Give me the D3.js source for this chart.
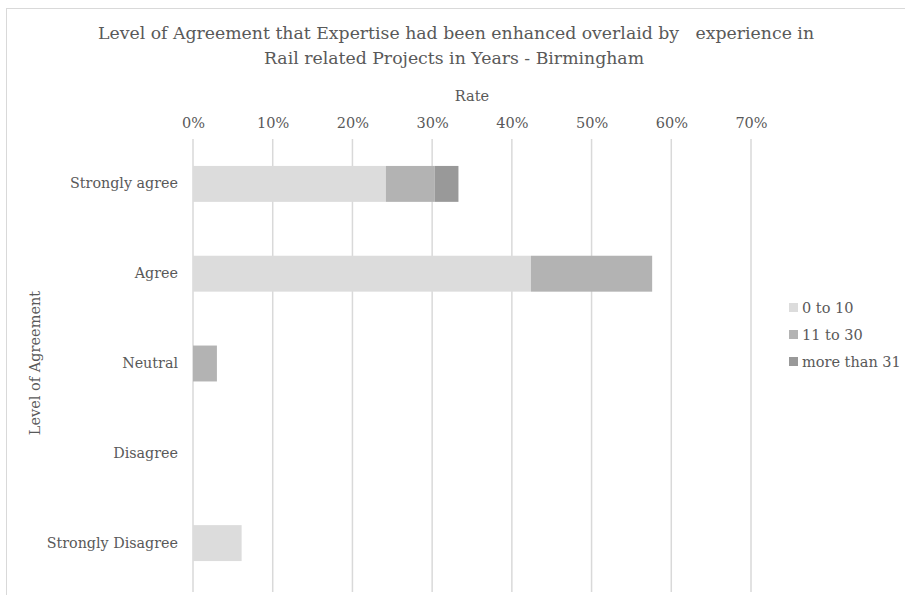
<!DOCTYPE html>
<html><head><meta charset="utf-8">
<script src="https://cdn.jsdelivr.net/npm/d3@7"></script>
<style>body{margin:0;background:#fff}svg{display:block}text{font-family:"DejaVu Serif",serif;fill:#595959}</style>
</head><body>
<script>
const categories = ["Strongly agree","Agree","Neutral","Disagree","Strongly Disagree"];
const seriesNames = ["0 to 10","11 to 30","more than 31"];
const s0to10 = [24.2, 42.4, 0, 0, 6.1];
const s11to30 = [6.1, 15.2, 3.0, 0, 0];
const sMore31 = [3.0, 0, 0, 0, 0];
const colors = ["#dcdcdc","#b3b3b3","#999999"];
const ticks = [0,10,20,30,40,50,60,70];

const W=905,H=595;
const FONT="DejaVu Serif";
const svg=d3.select("body").append("svg").attr("width",W).attr("height",H);
svg.append("rect").attr("x",6.5).attr("y",8.5).attr("width",W+10).attr("height",H+10).attr("fill","#fff").attr("stroke","#d9d9d9");

const x=d3.scaleLinear().domain([0,70]).range([193,751]);
const y=d3.scaleBand().domain(categories).range([139,588]).paddingInner(0.6).paddingOuter(0.3);

// gridlines
svg.append("g").selectAll("line").data(ticks).join("line")
 .attr("x1",d=>x(d)).attr("x2",d=>x(d)).attr("y1",139).attr("y2",592)
 .attr("stroke","#d9d9d9").attr("stroke-width",1.5);

// top axis
const ax=svg.append("g").attr("transform","translate(0,131)").call(d3.axisTop(x).tickValues(ticks).tickFormat(d=>d+"%").tickSize(0).tickPadding(0));
ax.select(".domain").remove();
ax.selectAll("text").attr("font-size",14.5).style("font-family",FONT).attr("fill","#595959").attr("dy","-0.2em");

// stacked data
const rows=categories.map((c,i)=>({cat:c,"0 to 10":s0to10[i],"11 to 30":s11to30[i],"more than 31":sMore31[i]}));
const stack=d3.stack().keys(seriesNames)(rows);
svg.append("g").selectAll("g").data(stack).join("g").attr("fill",(d,i)=>colors[i])
 .selectAll("rect").data(d=>d.filter(e=>e[1]-e[0]>0)).join("rect")
 .attr("x",d=>x(d[0])).attr("width",d=>x(d[1])-x(d[0]))
 .attr("y",d=>y(d.data.cat)).attr("height",y.bandwidth());

// category labels
const ay=svg.append("g").attr("transform","translate(193,0)").call(d3.axisLeft(y).tickSize(0).tickPadding(15));
ay.select(".domain").remove();
ay.selectAll("text").attr("font-size",14.3).style("font-family",FONT).attr("fill","#595959");

// titles
svg.append("text").attr("x",456).attr("y",39).attr("text-anchor","middle").attr("font-size",17.3).style("white-space","pre").text("Level of Agreement that Expertise had been enhanced overlaid by   experience in");
svg.append("text").attr("x",454).attr("y",64).attr("text-anchor","middle").attr("font-size",17.3).text("Rail related Projects in Years - Birmingham");
svg.append("text").attr("x",472).attr("y",101).attr("text-anchor","middle").attr("font-size",14.5).text("Rate");
svg.append("text").attr("transform","translate(40,363) rotate(-90)").attr("text-anchor","middle").attr("font-size",14.5).text("Level of Agreement");

// legend
const lg=svg.append("g").selectAll("g").data(seriesNames).join("g").attr("transform",(d,i)=>`translate(789,${303+i*27})`);
lg.append("rect").attr("width",9).attr("height",9).attr("y",0).attr("fill",(d,i)=>colors[i]);
lg.append("text").attr("x",13).attr("y",10).attr("font-size",14.5).text(d=>d);
</script>
</body></html>
